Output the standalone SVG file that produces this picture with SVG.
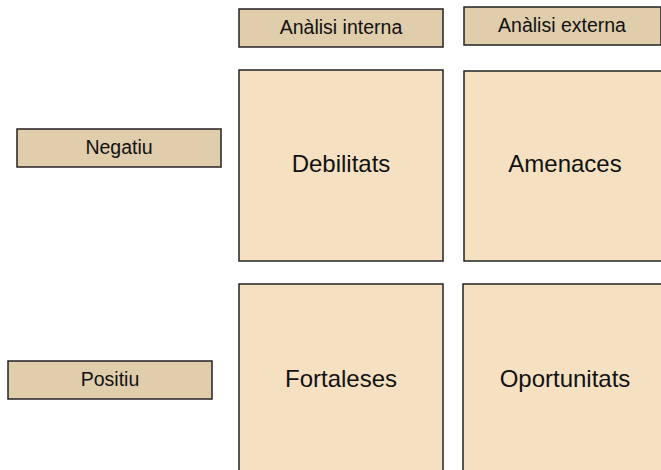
<svg xmlns="http://www.w3.org/2000/svg" width="661" height="470" viewBox="0 0 661 470">
<style>
.hdr{fill:#dfcdab;stroke:#222;stroke-width:1.5}
.cell{fill:#f5e1c2;stroke:#222;stroke-width:1.5}
text{font-family:"Liberation Sans",Arial,sans-serif;fill:#111;text-anchor:middle}
.s{font-size:19.5px}
.b{font-size:24px}
</style>
<rect width="661" height="470" fill="#fff"/>
<g id="analisi-interna"><rect class="hdr" x="239" y="9" width="204" height="38"/><text class="s" x="341" y="34">Anàlisi interna</text></g>
<g id="analisi-externa"><rect class="hdr" x="464" y="7" width="197" height="38"/><text class="s" x="562" y="32">Anàlisi externa</text></g>
<g id="negatiu"><rect class="hdr" x="17" y="129" width="204" height="38"/><text class="s" x="119" y="154">Negatiu</text></g>
<g id="positiu"><rect class="hdr" x="8" y="361" width="204" height="38"/><text class="s" x="110" y="386">Positiu</text></g>
<g id="debilitats"><rect class="cell" x="239" y="70" width="204" height="191"/><text class="b" x="341" y="172">Debilitats</text></g>
<g id="amenaces"><rect class="cell" x="464" y="71" width="204" height="190"/><text class="b" x="565" y="172">Amenaces</text></g>
<g id="fortaleses"><rect class="cell" x="239" y="284" width="204" height="200"/><text class="b" x="341" y="387">Fortaleses</text></g>
<g id="oportunitats"><rect class="cell" x="463" y="284" width="205" height="200"/><text class="b" x="565" y="387">Oportunitats</text></g>
<g id="connectors"></g>
</svg>
